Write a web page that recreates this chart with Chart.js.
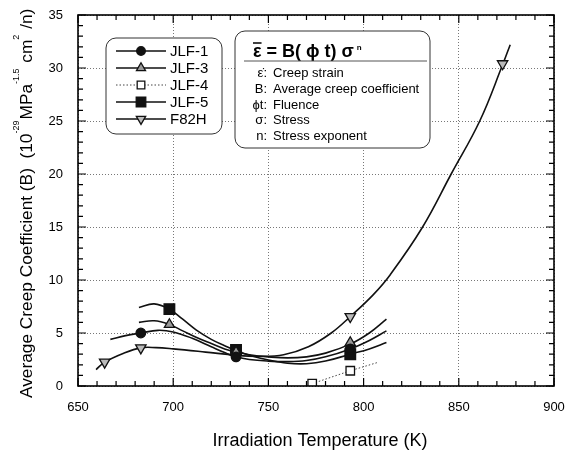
<!DOCTYPE html>
<html>
<head>
<meta charset="utf-8">
<script src="https://cdn.jsdelivr.net/npm/chart.js@4.4.0/dist/chart.umd.min.js"></script>
<style>
  html, body { margin: 0; padding: 0; background: #fff; }
  canvas { display: block; }
</style>
</head>
<body>
<canvas id="creep" width="565" height="450"></canvas>
<script>
const FONT = '"Liberation Sans", Arial, sans-serif';

// fitted curves (temperature K / B)
const jlf1CurveT = [667, 675, 683, 692, 700, 710, 720, 727, 733, 740, 750, 760, 770, 780, 793, 803, 812];
const jlf1CurveB = [4.4, 4.75, 5.0, 5.25, 5.1, 4.5, 3.7, 3.15, 2.75, 2.5, 2.35, 2.3, 2.4, 2.75, 3.5, 4.3, 5.2];
const jlf3CurveT = [682, 690, 698, 705, 712, 720, 727, 733, 740, 750, 760, 770, 780, 793, 803, 812];
const jlf3CurveB = [6.0, 6.15, 5.8, 5.2, 4.6, 4.0, 3.5, 3.2, 2.95, 2.75, 2.65, 2.75, 3.1, 3.95, 5.0, 6.3];
const jlf4CurveT = [773, 793, 807];
const jlf4CurveB = [0.22, 1.44, 2.2];
const jlf5CurveT = [682, 690, 698, 705, 712, 720, 727, 733, 740, 750, 760, 770, 780, 793, 803, 812];
const jlf5CurveB = [7.4, 7.75, 7.25, 6.3, 5.3, 4.4, 3.8, 3.35, 2.9, 2.45, 2.15, 2.1, 2.35, 3.0, 3.5, 4.1];
const f82hCurveT = [659.5, 664, 674, 683, 691, 700, 717, 733, 745, 758, 771, 783, 793, 805, 814, 831, 846, 861, 873, 877];
const f82hCurveB = [1.55, 2.25, 3.1, 3.6, 3.62, 3.5, 3.2, 2.9, 2.8, 2.95, 3.7, 5.0, 6.55, 8.6, 10.5, 15, 20, 25, 30.3, 32.2];

// measured points
const jlf1T = [683, 733, 793];
const jlf1B = [5.0, 2.75, 3.5];
const jlf3T = [698, 733, 793];
const jlf3B = [5.8, 3.2, 4.1];
const jlf4T = [773, 793];
const jlf4B = [0.22, 1.44];
const jlf5T = [698, 733, 793];
const jlf5B = [7.25, 3.4, 3.0];
const f82hT = [664, 683, 733, 793, 873];
const f82hB = [2.25, 3.6, 2.9, 6.55, 30.4];

const xTicks = [650, 700, 750, 800, 850, 900];
const yTicks = [0, 5, 10, 15, 20, 25, 30, 35];

const seriesNames = ['JLF-1', 'JLF-3', 'JLF-4', 'JLF-5', 'F82H'];
const eqSymbols = ['\u03B5\u0307:', 'B:', '\u03D5t:', '\u03C3:', 'n:'];
const eqTexts = ['Creep strain', 'Average creep coefficient', 'Fluence', 'Stress', 'Stress exponent'];

const yTitleParts = [
  ['Average Creep Coefficient (B)  (10', false], ['-29', true], ['MPa', false],
  ['-1.5', true], [' cm', false], ['2', true], [' /n)', false]
];

const markerStyle = {
  'JLF-1': { pointStyle: 'circle', radius: 4.8, rotation: 0, fill: '#111', dashed: false },
  'JLF-3': { pointStyle: 'triangle', radius: 5.8, rotation: 0, fill: '#999', dashed: false },
  'JLF-4': { pointStyle: 'rect', radius: 6, rotation: 0, fill: '#fff', dashed: true },
  'JLF-5': { pointStyle: 'rect', radius: 7.5, rotation: 0, fill: '#111', dashed: false },
  'F82H': { pointStyle: 'triangle', radius: 6, rotation: 180, fill: '#bbb', dashed: false }
};

const pairs = (xs, ys) => xs.map((x, i) => ({ x: x, y: ys[i] }));

function curve(label, xs, ys) {
  const dashed = markerStyle[label].dashed;
  return {
    label: label + ' fit',
    data: pairs(xs, ys),
    showLine: true,
    pointRadius: 0,
    borderColor: dashed ? '#444' : '#111',
    borderWidth: dashed ? 1 : 1.6,
    borderDash: dashed ? [1.5, 2] : [],
    tension: dashed ? 0 : 0.4,
    order: 2
  };
}

function points(label, xs, ys) {
  const s = markerStyle[label];
  return {
    label: label,
    data: pairs(xs, ys),
    showLine: false,
    pointStyle: s.pointStyle,
    pointRadius: s.radius,
    pointRotation: s.rotation,
    pointBackgroundColor: s.fill,
    pointBorderColor: '#111',
    pointBorderWidth: 1.3,
    order: 1
  };
}

function roundBox(ctx, x, y, w, h, r) {
  ctx.beginPath();
  ctx.moveTo(x + r, y);
  ctx.arcTo(x + w, y, x + w, y + h, r);
  ctx.arcTo(x + w, y + h, x, y + h, r);
  ctx.arcTo(x, y + h, x, y, r);
  ctx.arcTo(x, y, x + w, y, r);
  ctx.closePath();
  ctx.fillStyle = '#fff';
  ctx.fill();
  ctx.lineWidth = 1;
  ctx.strokeStyle = '#333';
  ctx.stroke();
}

// frame with inward major/minor ticks on all four sides
const frameTicks = {
  id: 'frameTicks',
  afterDatasetsDraw(chart) {
    const { ctx, chartArea: a, scales: { x, y } } = chart;
    ctx.save();
    ctx.strokeStyle = '#000';
    ctx.lineWidth = 1.2;
    ctx.beginPath();
    for (let v = 650; v <= 900; v += 10) {
      const px = x.getPixelForValue(v);
      const len = v % 50 === 0 ? 8 : 5;
      ctx.moveTo(px, a.bottom); ctx.lineTo(px, a.bottom - len);
      ctx.moveTo(px, a.top); ctx.lineTo(px, a.top + len);
    }
    for (let v = 0; v <= 35; v += 1) {
      const py = y.getPixelForValue(v);
      const len = v % 5 === 0 ? 8 : 5;
      ctx.moveTo(a.left, py); ctx.lineTo(a.left + len, py);
      ctx.moveTo(a.right, py); ctx.lineTo(a.right - len, py);
    }
    ctx.stroke();
    ctx.lineWidth = 1.6;
    ctx.strokeRect(a.left, a.top, a.right - a.left, a.bottom - a.top);
    ctx.restore();
  }
};

// legend box, equation box and axis titles
const annotations = {
  id: 'annotations',
  afterDraw(chart) {
    const ctx = chart.ctx;
    ctx.save();

    // series legend
    roundBox(ctx, 106, 38, 116, 96, 10);
    seriesNames.forEach((name, i) => {
      const s = markerStyle[name];
      const yy = 51 + i * 17;
      ctx.strokeStyle = s.dashed ? '#444' : '#111';
      ctx.lineWidth = s.dashed ? 1 : 1.6;
      ctx.setLineDash(s.dashed ? [1.5, 2] : []);
      ctx.beginPath();
      ctx.moveTo(116, yy); ctx.lineTo(166, yy);
      ctx.stroke();
      ctx.setLineDash([]);
      ctx.fillStyle = s.fill;
      ctx.strokeStyle = '#111';
      ctx.lineWidth = 1.3;
      Chart.helpers.drawPoint(ctx, {
        pointStyle: s.pointStyle, radius: s.radius * 0.9, rotation: s.rotation, borderWidth: 1.3
      }, 141, yy);
      ctx.fillStyle = '#000';
      ctx.font = '15px ' + FONT;
      ctx.textBaseline = 'middle';
      ctx.textAlign = 'left';
      ctx.fillText(name, 170, yy + 1);
    });

    // equation box
    roundBox(ctx, 235, 31, 195, 117, 10);
    ctx.fillStyle = '#000';
    ctx.textBaseline = 'alphabetic';
    ctx.textAlign = 'left';
    ctx.font = 'bold 18px ' + FONT;
    let ex = 253;
    const eqBase = 57;
    ctx.fillText('\u03B5', ex, eqBase);
    const epsW = ctx.measureText('\u03B5').width;
    ctx.lineWidth = 1.5;
    ctx.strokeStyle = '#000';
    ctx.beginPath();
    ctx.moveTo(ex, eqBase - 14); ctx.lineTo(ex + epsW, eqBase - 14);
    ctx.stroke();
    ex += epsW;
    const eqTitle = ' = B( \u03D5 t) \u03C3';
    ctx.fillText(eqTitle, ex, eqBase);
    ex += ctx.measureText(eqTitle).width + 3;
    ctx.font = 'bold 8px ' + FONT;
    ctx.fillText('n', ex, eqBase - 7);

    ctx.lineWidth = 1;
    ctx.strokeStyle = '#555';
    ctx.beginPath();
    ctx.moveTo(244, 61); ctx.lineTo(427, 61);
    ctx.stroke();

    ctx.font = '13px ' + FONT;
    eqTexts.forEach((t, i) => {
      const yy = 77 + i * 15.8;
      ctx.textAlign = 'right';
      ctx.fillText(eqSymbols[i], 267, yy);
      ctx.textAlign = 'left';
      ctx.fillText(t, 273, yy);
    });

    // x axis title
    ctx.textAlign = 'center';
    ctx.font = '18px ' + FONT;
    ctx.fillText('Irradiation Temperature (K)', 320, 446);

    // y axis title with superscripts
    ctx.translate(32, 398);
    ctx.rotate(-Math.PI / 2);
    ctx.textAlign = 'left';
    let pos = 0;
    yTitleParts.forEach(([txt, sup]) => {
      ctx.font = (sup ? '9px ' : '17.3px ') + FONT;
      ctx.fillText(txt, pos, sup ? -13 : 0);
      pos += ctx.measureText(txt).width + (sup ? 1 : 0);
    });
    ctx.restore();
  }
};

new Chart(document.getElementById('creep').getContext('2d'), {
  type: 'scatter',
  data: {
    datasets: [
      points('JLF-1', jlf1T, jlf1B),
      points('JLF-3', jlf3T, jlf3B),
      points('JLF-4', jlf4T, jlf4B),
      points('JLF-5', jlf5T, jlf5B),
      points('F82H', f82hT, f82hB),
      curve('JLF-1', jlf1CurveT, jlf1CurveB),
      curve('JLF-3', jlf3CurveT, jlf3CurveB),
      curve('JLF-4', jlf4CurveT, jlf4CurveB),
      curve('JLF-5', jlf5CurveT, jlf5CurveB),
      curve('F82H', f82hCurveT, f82hCurveB)
    ]
  },
  options: {
    responsive: false,
    animation: false,
    layout: { padding: { left: 0, right: 11, top: 15, bottom: 0 } },
    plugins: {
      legend: { display: false },
      tooltip: { enabled: false }
    },
    scales: {
      x: {
        type: 'linear',
        min: 650,
        max: 900,
        afterBuildTicks: s => { s.ticks = xTicks.map(v => ({ value: v })); },
        afterFit: s => { s.height = 64; s.paddingLeft = 0; s.paddingRight = 0; },
        ticks: { color: '#000', font: { size: 13, family: FONT }, padding: 14, maxRotation: 0 },
        grid: { color: '#777', lineWidth: 1, drawTicks: false },
        border: { display: false, dash: [1, 2] }
      },
      y: {
        type: 'linear',
        min: 0,
        max: 35,
        afterBuildTicks: s => { s.ticks = yTicks.map(v => ({ value: v })); },
        afterFit: s => { s.width = 78; s.paddingTop = 0; s.paddingBottom = 0; },
        ticks: { color: '#000', font: { size: 13, family: FONT }, padding: 15 },
        grid: { color: '#777', lineWidth: 1, drawTicks: false },
        border: { display: false, dash: [1, 2] }
      }
    }
  },
  plugins: [frameTicks, annotations]
});
</script>
</body>
</html>
